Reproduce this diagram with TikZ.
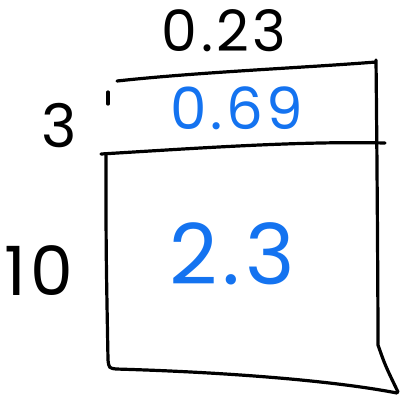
\documentclass[tikz,border=0pt]{standalone}
\usepackage{fontspec}
\setmainfont{Poppins}[LetterSpace=6]
\definecolor{penblue}{RGB}{20,115,240}
\tikzset{
  pen/.style={line width=3.2pt, line cap=round, line join=round},
  lbl/.style={inner sep=0pt},
  val/.style={inner sep=0pt, text=penblue}
}
\begin{document}
\begin{tikzpicture}[x=1pt, y=-1pt]
  \useasboundingbox (0,0) rectangle (403,400);
  % the box
  \draw[pen] (117,81) .. controls (200,72) and (300,68) .. (376,62) -- (376,60)
    .. controls (377,150) and (378,300) .. (378,345) .. controls (385,365) .. (398,392);
  \draw[pen] (108,92) -- (108,104);
  \draw[pen] (106,155) .. controls (106,250) .. (108,360) .. controls (109,368) .. (116,369)
    .. controls (220,372) and (330,380) .. (397,393);
  \draw[pen] (101,154) .. controls (200,148) and (300,141) .. (385,143);
  % labels
  \node[lbl] (w) at (224,31) {\fontsize{57}{60}\selectfont 0.23};
  \node[lbl] (h1) at (59,126) {\fontsize{60}{64}\selectfont 3};
  \node[lbl] (h2) at (39,271) {\fontsize{68}{72}\selectfont 10};
  \node[val] (top) at (237,108) {\fontsize{58}{62}\selectfont 0.69};
  \node[val] (bot) at (232,254) {\fontsize{84}{88}\selectfont 2.3};
\end{tikzpicture}
\end{document}
